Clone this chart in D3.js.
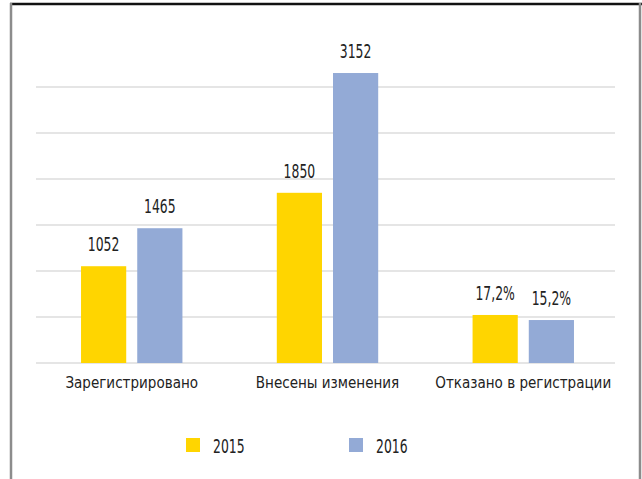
<html>
<head>
<meta charset="UTF-8">
<title>Регистрация</title>
<script src="https://d3js.org/d3.v7.min.js"></script>
<style>
  body { margin: 0; background: #fff; }
  svg { display: block; }
  .lbl { font-family: "Liberation Sans Narrow", "DejaVu Sans Condensed", sans-serif; fill: #222; }
  .grid line { stroke: #dcdcdc; stroke-width: 1.6; }
</style>
</head>
<body>
<svg width="642" height="479"></svg>
<script>
// data
var categories = ["Зарегистрировано", "Внесены изменения", "Отказано в регистрации"];
var years = ["2015", "2016"];
var values2015 = [1052, 1850, 522];
var values2016 = [1465, 3152, 467];
var labels2015 = ["1052", "1850", "17,2%"];
var labels2016 = ["1465", "3152", "15,2%"];
var gridTicks = [0, 500, 1000, 1500, 2000, 2500, 3000];
var colors = ["#ffd500", "#93aad6"];

var svg = d3.select("svg");

// squeeze the text sideways, the original font is very narrow
var narrowBig = 0.69, narrowCat = 0.94;
function sq(x, y, s) { return "translate(" + x + "," + y + ") scale(" + s + ",1)"; }

// frame
svg.append("line").attr("x1", 10).attr("x2", 642).attr("y1", 4).attr("y2", 4)
  .attr("stroke", "#111").attr("stroke-width", 2.5);
svg.append("line").attr("x1", 11).attr("x2", 11).attr("y1", 3).attr("y2", 479)
  .attr("stroke", "#8c8c8c").attr("stroke-width", 2.5);
svg.append("line").attr("x1", 640).attr("x2", 640).attr("y1", 3).attr("y2", 479)
  .attr("stroke", "#8c8c8c").attr("stroke-width", 2.5);

var x0 = d3.scaleBand().domain(categories).range([36, 619])
  .paddingInner(0.482).paddingOuter(0.23);
var x1 = d3.scaleBand().domain(years).range([0, x0.bandwidth()]).paddingInner(0.196);
var y = d3.scaleLinear().domain([0, 3000]).range([363, 87]);
var color = d3.scaleOrdinal().domain(years).range(colors);

// gridlines
svg.append("g").attr("class", "grid")
  .selectAll("line").data(gridTicks).enter().append("line")
  .attr("x1", 36).attr("x2", 615)
  .attr("y1", d => y(d)).attr("y2", d => y(d));

var rows = categories.map((c, i) => ({
  cat: c,
  items: [
    {year: "2015", v: values2015[i], label: labels2015[i]},
    {year: "2016", v: values2016[i], label: labels2016[i]}
  ]
}));

var groups = svg.selectAll(".grp").data(rows).enter().append("g")
  .attr("class", "grp")
  .attr("transform", d => "translate(" + x0(d.cat) + ",0)");

groups.selectAll("rect").data(d => d.items).enter().append("rect")
  .attr("x", d => x1(d.year))
  .attr("width", x1.bandwidth())
  .attr("y", d => y(d.v))
  .attr("height", d => y(0) - y(d.v))
  .attr("fill", d => color(d.year));

groups.selectAll("text").data(d => d.items).enter().append("text")
  .attr("class", "lbl")
  .attr("transform", d => sq(x1(d.year) + x1.bandwidth() / 2, y(d.v) - 15, narrowBig))
  .attr("text-anchor", "middle")
  .attr("font-size", 20)
  .text(d => d.label);

// category labels
svg.selectAll(".cat").data(categories).enter().append("text")
  .attr("class", "lbl cat")
  .attr("transform", d => sq(x0(d) + x0.bandwidth() / 2, 388, narrowCat))
  .attr("text-anchor", "middle")
  .attr("font-size", 16)
  .text(d => d);

// legend
var legX = [186, 349];
var leg = svg.selectAll(".leg").data(years).enter().append("g")
  .attr("class", "leg")
  .attr("transform", (d, i) => "translate(" + legX[i] + ",438)");
leg.append("rect").attr("width", 14).attr("height", 14).attr("fill", d => color(d));
leg.append("text").attr("class", "lbl").attr("transform", sq(27, 15, narrowBig))
  .attr("font-size", 20).text(d => d);
</script>
</body>
</html>
